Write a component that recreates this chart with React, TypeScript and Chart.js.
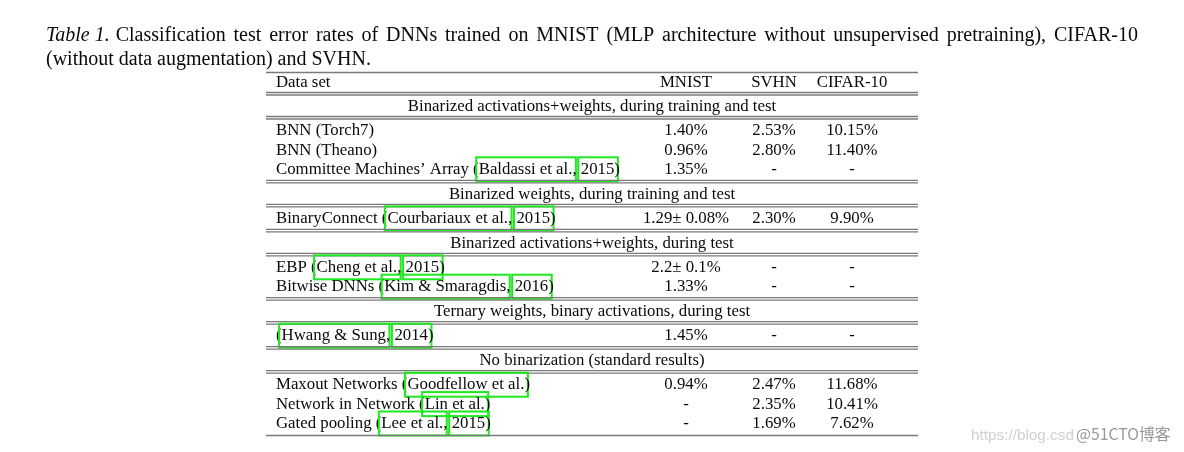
import React, { useEffect, useRef } from "react";
import { Chart, registerables } from "chart.js";

Chart.register(...registerables);

// ---------- data ----------
const captionLabel = "Table 1.";
const captionLine1 =
  "Classification test error rates of DNNs trained on MNIST (MLP architecture without unsupervised pretraining), CIFAR-10";
const captionLine2 = "(without data augmentation) and SVHN.";
const columnHeaders = ["Data set", "MNIST", "SVHN", "CIFAR-10"];
const sectionTitles = [
  "Binarized activations+weights, during training and test",
  "Binarized weights, during training and test",
  "Binarized activations+weights, during test",
  "Ternary weights, binary activations, during test",
  "No binarization (standard results)",
];
const methodNames = [
  "BNN (Torch7)",
  "BNN (Theano)",
  "Committee Machines\u2019 Array",
  "BinaryConnect",
  "EBP",
  "Bitwise DNNs",
  "",
  "Maxout Networks",
  "Network in Network",
  "Gated pooling",
];
const methodCitations: string[][] = [
  [],
  [],
  ["Baldassi et al.", "2015"],
  ["Courbariaux et al.", "2015"],
  ["Cheng et al.", "2015"],
  ["Kim & Smaragdis", "2016"],
  ["Hwang & Sung", "2014"],
  ["Goodfellow et al."],
  ["Lin et al."],
  ["Lee et al.", "2015"],
];
const methodSection = [0, 0, 0, 1, 2, 2, 3, 4, 4, 4];
const mnistErrors = ["1.40%", "0.96%", "1.35%", "1.29\u00b1 0.08%", "2.2\u00b1 0.1%", "1.33%", "1.45%", "0.94%", "-", "-"];
const svhnErrors = ["2.53%", "2.80%", "-", "2.30%", "-", "-", "-", "2.47%", "2.35%", "1.69%"];
const cifarErrors = ["10.15%", "11.40%", "-", "9.90%", "-", "-", "-", "11.68%", "10.41%", "7.62%"];
const watermarkUrl = "https://blog.csd";
const watermarkBrand = "@51CTO\u535a\u5ba2";

// ---------- style / layout ----------
const W = 1184;
const H = 452;
const SERIF = '"Liberation Serif", "Times New Roman", serif';
const TEXT = "#0a0a0a";
const RULE = "#7a7a7a";
const LINK = "#1ee81e";
const TABLE_L = 266;
const TABLE_R = 918;
const TEXT_L = 276;
const COL_X = [686, 774, 852];
const FS = 16.8;

const tablePlugin = {
  id: "tableDraw",
  afterDraw(chart: any) {
    const ctx: CanvasRenderingContext2D = chart.ctx;
    ctx.save();
    ctx.fillStyle = "#ffffff";
    ctx.fillRect(0, 0, W, H);
    ctx.fillStyle = TEXT;
    ctx.textBaseline = "alphabetic";

    // ---- caption (justified first line) ----
    const capL = 46;
    const capR = 1138;
    ctx.font = `italic 20px ${SERIF}`;
    const labelW = ctx.measureText(captionLabel).width;
    ctx.font = `20px ${SERIF}`;
    const words = captionLine1.split(" ");
    const wordW = words.map((w) => ctx.measureText(w).width);
    const total = labelW + wordW.reduce((a, b) => a + b, 0);
    const gap = (capR - capL - total) / words.length;
    ctx.font = `italic 20px ${SERIF}`;
    ctx.textAlign = "left";
    ctx.fillText(captionLabel, capL, 40.5);
    ctx.font = `20px ${SERIF}`;
    let cx = capL + labelW + Math.min(gap, 6);
    const gap2 = (capR - cx - wordW.reduce((a, b) => a + b, 0)) / (words.length - 1);
    words.forEach((w, i) => {
      ctx.fillText(w, cx, 40.5);
      cx += wordW[i] + gap2;
    });
    ctx.fillText(captionLine2, capL, 64.5);

    // ---- table ----
    const hline = (y: number, lw = 1.3) => {
      ctx.strokeStyle = RULE;
      ctx.lineWidth = lw;
      ctx.beginPath();
      ctx.moveTo(TABLE_L, y);
      ctx.lineTo(TABLE_R, y);
      ctx.stroke();
    };
    const dline = (y: number) => {
      hline(y);
      hline(y + 2.5);
    };
    const base = (c: number) => c + 5.6;
    ctx.font = `${FS}px ${SERIF}`;

    hline(72.5);
    const headerC = 81.5;
    ctx.fillStyle = TEXT;
    ctx.textAlign = "left";
    ctx.fillText(columnHeaders[0], TEXT_L, base(headerC));
    ctx.textAlign = "center";
    for (let k = 1; k < 4; k++) ctx.fillText(columnHeaders[k], COL_X[k - 1], base(headerC));

    const ROW_STEP = 19.4;
    const ROW_OFF = 10.5;
    const AFTER = 12;
    let y0 = 92.5;
    let lastCenter = 0;
    const center = (TABLE_L + TABLE_R) / 2;
    sectionTitles.forEach((title, s) => {
      if (s > 0) y0 = lastCenter + AFTER;
      dline(y0);
      ctx.fillStyle = TEXT;
      ctx.textAlign = "center";
      ctx.fillText(title, center, base(y0 + 13));
      const y1 = y0 + 24;
      dline(y1);
      let rc = y1 + 2.5 + ROW_OFF;
      methodSection.forEach((sec, i) => {
        if (sec !== s) return;
        ctx.textAlign = "left";
        ctx.fillStyle = TEXT;
        let x = TEXT_L;
        const prefix = methodNames[i] ? methodNames[i] + " " : "";
        const cites = methodCitations[i];
        if (cites.length === 0) {
          ctx.fillText(methodNames[i], x, base(rc));
        } else {
          const head = prefix + "(";
          ctx.fillText(head, x, base(rc));
          x += ctx.measureText(head).width;
          cites.forEach((c, j) => {
            const cw = ctx.measureText(c).width;
            ctx.fillStyle = TEXT;
            ctx.fillText(c, x, base(rc));
            ctx.strokeStyle = LINK;
            ctx.lineWidth = 2;
            ctx.strokeRect(x - 2.5, rc - 11, cw + 6, 24);
            x += cw;
            const sep = j < cites.length - 1 ? ", " : ")";
            ctx.fillStyle = TEXT;
            ctx.fillText(sep, x, base(rc));
            x += ctx.measureText(sep).width;
          });
        }
        ctx.fillStyle = TEXT;
        ctx.textAlign = "center";
        ctx.fillText(mnistErrors[i], COL_X[0], base(rc));
        ctx.fillText(svhnErrors[i], COL_X[1], base(rc));
        ctx.fillText(cifarErrors[i], COL_X[2], base(rc));
        lastCenter = rc;
        rc += ROW_STEP;
      });
    });
    hline(lastCenter + 13);

    // ---- watermark ----
    ctx.textAlign = "left";
    ctx.font = `15.3px "Liberation Sans", Arial, sans-serif`;
    ctx.fillStyle = "#d0d0d0";
    ctx.fillText(watermarkUrl, 971, 440);
    ctx.font = `15.8px "Noto Sans CJK SC", sans-serif`;
    ctx.fillStyle = "#999999";
    ctx.fillText(watermarkBrand, 1076, 440);

    ctx.restore();
  },
};

export default function App() {
  const ref = useRef<HTMLCanvasElement | null>(null);
  useEffect(() => {
    document.body.style.margin = "0";
    const canvas = ref.current;
    if (!canvas) return;
    const chart = new Chart(canvas, {
      type: "bar",
      data: { labels: methodNames, datasets: [] },
      options: {
        animation: false,
        responsive: false,
        devicePixelRatio: 1,
        layout: { padding: 0 },
        plugins: { legend: { display: false }, tooltip: { enabled: false }, title: { display: false } },
        scales: { x: { display: false }, y: { display: false } },
      },
      plugins: [tablePlugin],
    });
    return () => chart.destroy();
  }, []);
  return (
    <div style={{ width: W, height: H, background: "#fff" }}>
      <canvas ref={ref} width={W} height={H} style={{ display: "block", width: W, height: H }} />
    </div>
  );
}
